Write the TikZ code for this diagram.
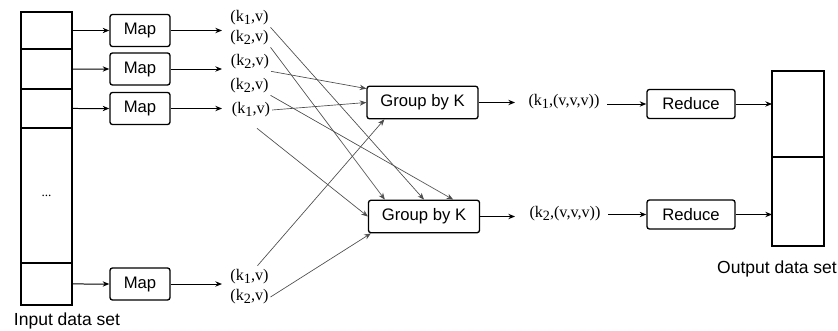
\documentclass[tikz,border=0pt]{standalone}
\usepackage{fontspec}
\setmainfont{Liberation Serif}
\setsansfont{Liberation Sans}
\usetikzlibrary{arrows.meta}
\usetikzlibrary{calc}
\usetikzlibrary{positioning}

\tikzset{
  cell/.style={draw, thick, inner sep=0pt, outer sep=0pt, minimum width=30.6pt},
  proc/.style={draw, thick, rounded corners=1.5pt, inner sep=0pt,
    font=\sffamily\fontsize{10}{12}\selectfont},
  pair/.style={inner sep=1pt, font=\fontsize{9.7}{11}\selectfont},
  caption/.style={font=\sffamily\fontsize{10.5}{12}\selectfont},
  flow/.style={-{Stealth[length=4pt,width=3.2pt]}, semithick},
  shuffle/.style={-{Stealth[length=4pt,width=3.2pt]}, draw=black!70, thin},
}
\newcommand{\ksub}[1]{k\raisebox{-0.4ex}{\fontsize{8.5}{8.5}\selectfont #1}}

\begin{document}
\begin{tikzpicture}[x=0.6pt,y=-0.6pt]
                \useasboundingbox (0,0) rectangle (838,331);

                % input data set
                \node[cell, minimum height=22.2pt] (in1) at (46.5,30.5) {};
                \node[cell, minimum height=24pt, below=0pt of in1] (in2) {};
                \node[cell, minimum height=23.4pt, below=0pt of in2] (in3) {};
                \node[cell, minimum height=81pt, below=0pt of in3] (in4) {\fontsize{8}{8}\selectfont ...};
                \node[cell, minimum height=25.2pt, below=0pt of in4] (in5) {};
                \node[caption] (inlabel) at (67,321) {Input data set};

                % map
                \node[proc, minimum width=36pt, minimum height=19.2pt] (map1) at (140,30.5) {Map};
                \node[proc, minimum width=36pt, minimum height=19.2pt] (map2) at (140,69) {Map};
                \node[proc, minimum width=36pt, minimum height=19.2pt] (map3) at (140,108.5) {Map};
                \node[proc, minimum width=36pt, minimum height=19.2pt] (map4) at (140,284) {Map};

                \foreach \c/\m in {in1/map1,in2/map2,in3/map3,in5/map4}
                    \draw[flow] (\c.east) -- (\m.west);

                \coordinate (e1) at (222,30.5);
                \coordinate (e2) at (222,69);
                \coordinate (e3) at (222,108.5);
                \coordinate (e4) at (222,284);
                \foreach \i in {1,...,4}
                    \draw[flow] (map\i.east) -- (e\i);

                % intermediate pairs
                \node[pair] (kv1) at (249.5,18) {(\ksub{1},v)};
                \node[pair] (kv2) at (249.5,38) {(\ksub{2},v)};
                \node[pair] (kv3) at (250,62) {(\ksub{2},v)};
                \node[pair] (kv4) at (249.5,86) {(\ksub{2},v)};
                \node[pair] (kv5) at (251,110) {(\ksub{1},v)};
                \node[pair] (kv6) at (249.5,277) {(\ksub{1},v)};
                \node[pair] (kv7) at (249.5,297) {(\ksub{2},v)};

                % group
                \node[proc, minimum width=66.6pt, minimum height=19.5pt] (g1) at (422.5,102.5) {Group by K};
                \node[proc, minimum width=66.6pt, minimum height=19.5pt] (g2) at (424,216.5) {Group by K};

                \draw[shuffle] (kv1.south east) -- (g2.north);
                \draw[shuffle] (kv2.south east) -- ($(g2.north west)+(17,0)$);
                \draw[shuffle] (kv3.south east) -- ($(g1.north west)+(0,3)$);
                \draw[shuffle] (kv4.south east) -- ($(g2.north east)+(-27,0)$);
                \draw[shuffle] (kv5.east) -- (g1.west);
                \draw[shuffle] ($(kv5.south)+(6,9)$) -- (g2.west);
                \draw[shuffle] ($(kv6.north)+(8,-2)$) -- ($(g1.south west)+(18,0)$);
                \draw[shuffle] (kv7.east) -- ($(g2.south west)+(3,0)$);

                % reduce
                \coordinate (h1) at (515,102.5);
                \coordinate (h2) at (515,216.5);
                \draw[flow] (g1.east) -- (h1);
                \draw[flow] (g2.east) -- (h2);

                \node[pair] (r1) at (564,102) {(\ksub{1},(v,v,v))};
                \node[pair] (r2) at (565,213.5) {(\ksub{2},(v,v,v))};

                \node[proc, minimum width=52.8pt, minimum height=17.4pt] (red1) at (691,104) {Reduce};
                \node[proc, minimum width=52.8pt, minimum height=17.4pt] (red2) at (691,214.5) {Reduce};

                \draw[flow] ($(r1.east |- red1.west)+(6,0)$) -- (red1.west);
                \draw[flow] ($(r2.east |- red2.west)+(6,0)$) -- (red2.west);

                % output data set
                \node[cell, minimum width=31.2pt, minimum height=51.6pt] (out1) at (798,114) {};
                \node[cell, minimum width=31.2pt, minimum height=53.4pt, below=0pt of out1] (out2) {};
                \node[caption] (outlabel) at (777,269) {Output data set};

                \draw[flow] (red1.east) -- (red1.east -| out1.west);
                \draw[flow] (red2.east) -- (red2.east -| out2.west);
            \end{tikzpicture}
\end{document}
